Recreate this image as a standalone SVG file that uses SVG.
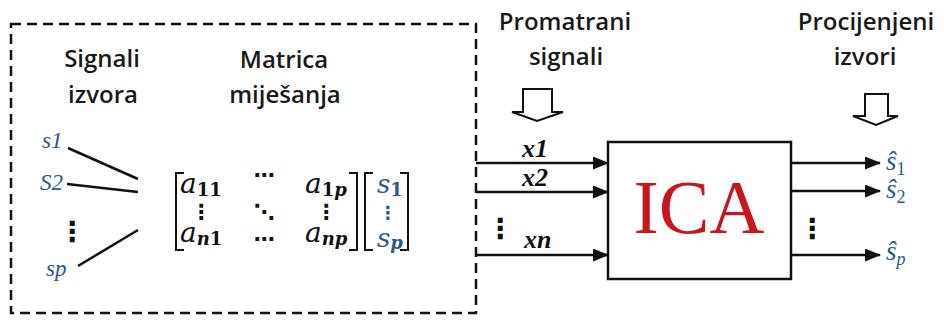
<svg xmlns="http://www.w3.org/2000/svg" width="944" height="320" viewBox="0 0 944 320">
<style>
.hd{font-family:"Open Sans","Liberation Sans",sans-serif;font-size:24px;font-weight:600;fill:#1a1a1a;text-anchor:middle}
.ma{font-family:"DejaVu Serif",serif;font-size:28px;font-style:italic;fill:#111}
.sub{font-size:18px;font-weight:bold}
.up{font-style:normal}
.sv{font-family:"DejaVu Serif",serif;font-size:26px;font-style:italic;fill:#2c5985}
.sl{font-family:"Liberation Serif",serif;font-size:23px;font-style:italic;fill:#2c5985}
.xl{font-family:"Liberation Serif",serif;font-size:26px;font-style:italic;font-weight:bold;fill:#111}
.hl{font-family:"Liberation Serif",serif;font-size:27px;font-style:italic;fill:#2c5985}
.hs{font-size:18px;font-style:normal}
.dots{font-family:"DejaVu Sans",sans-serif;font-size:28px;font-weight:bold;fill:#111;text-anchor:middle}
.mdots{font-family:"DejaVu Sans",sans-serif;font-size:21px;font-weight:bold;fill:#111;text-anchor:middle}
.line{stroke:#111;stroke-width:2.5;fill:none}
.br{stroke:#111;stroke-width:2;fill:none}
.arr{stroke:#111;stroke-width:2.5;fill:none;marker-end:url(#ah)}
.hollow{fill:#fff;stroke:#111;stroke-width:2;stroke-linejoin:miter}
</style>
<defs>
<marker id="ah" markerUnits="userSpaceOnUse" markerWidth="16" markerHeight="14" refX="15" refY="6.5" orient="auto">
<path d="M0,0 L16,6.5 L0,13 z" fill="#111"/>
</marker>
</defs>
<rect width="944" height="320" fill="#fff"/>

<g id="mixing-box">
<rect x="11" y="24" width="465" height="289" fill="none" stroke="#111" stroke-width="2.5" stroke-dasharray="10,6"/>
</g>

<g id="labels-left">
<text class="hd" x="102" y="67">Signali</text>
<text class="hd" x="103" y="103">izvora</text>
<text class="hd" x="284" y="68">Matrica</text>
<text class="hd" x="285" y="103">miješanja</text>
</g>

<g id="sources">
<text class="sl" x="42" y="148">s1</text>
<text class="sl" x="40" y="190">S2</text>
<text class="dots" x="72" y="241">⋮</text>
<text class="sl" x="46" y="276">sp</text>
</g>

<g id="matrix">
<path class="br" d="M184,173 H176 V250 H184"/>
<path class="br" d="M349,173 H357 V250 H349"/>
<text class="ma" x="180" y="193">a<tspan class="sub up" dy="3">11</tspan></text>
<text class="mdots" x="264" y="182">⋯</text>
<text class="ma" x="305" y="193">a<tspan class="sub" dy="3"><tspan class="up">1</tspan>p</tspan></text>
<text class="mdots" x="201" y="219">⋮</text>
<text class="mdots" x="264" y="219">⋱</text>
<text class="mdots" x="326" y="219">⋮</text>
<text class="ma" x="180" y="242">a<tspan class="sub" dy="3">n<tspan class="up">1</tspan></tspan></text>
<text class="mdots" x="264" y="246">⋯</text>
<text class="ma" x="305" y="242">a<tspan class="sub" dy="3">np</tspan></text>
</g>

<g id="source-vector">
<path class="br" d="M373,173 H365 V250 H373"/>
<path class="br" d="M400,173 H408 V250 H400"/>
<text class="sv" x="377" y="193">s<tspan class="sub up" dy="3">1</tspan></text>
<text class="mdots" x="388" y="219" style="fill:#2c5985;font-size:18px">⋮</text>
<text class="sv" x="377" y="247">s<tspan class="sub" dy="2">p</tspan></text>
</g>

<g id="observed-label">
<text class="hd" x="565" y="30">Promatrani</text>
<text class="hd" x="566" y="65">signali</text>
<path class="hollow" d="M523,89 H552 V112 H563 L537,121 L512,112 H523 Z"/>
</g>

<g id="estimated-label">
<text class="hd" x="866" y="30">Procijenjeni</text>
<text class="hd" x="865" y="65">izvori</text>
<path class="hollow" d="M865,94 H888 V116 H898 L876,125 L853,116 H865 Z"/>
</g>

<g id="ica">
<rect x="608" y="142" width="183" height="137" fill="#fff" stroke="#111" stroke-width="2.5"/>
<text x="699" y="233" text-anchor="middle" font-family="Liberation Serif,serif" font-size="76" fill="#c8161d">ICA</text>
</g>

<g id="x-labels">
<text class="xl" x="522" y="157">x1</text>
<text class="xl" x="522" y="186">x2</text>
<text class="dots" x="500" y="238">⋮</text>
<text class="xl" x="524" y="248">xn</text>
</g>

<g id="s-hat-labels">
<text class="hl" x="886" y="170">ŝ<tspan class="hs" dy="5">1</tspan></text>
<text class="hl" x="886" y="198">ŝ<tspan class="hs" dy="5">2</tspan></text>
<text class="dots" x="812" y="238">⋮</text>
<text class="hl" x="886" y="260">ŝ<tspan class="hs" dy="5" style="font-style:italic">p</tspan></text>
</g>

<g id="connectors">
<line class="line" x1="68" y1="148" x2="138" y2="179"/>
<line class="line" x1="67" y1="184" x2="138" y2="192"/>
<line class="line" x1="78" y1="266" x2="138" y2="230"/>
<line class="arr" x1="476" y1="163" x2="608" y2="163"/>
<line class="arr" x1="476" y1="192" x2="608" y2="192"/>
<line class="arr" x1="476" y1="255" x2="608" y2="255"/>
<line class="arr" x1="791" y1="163" x2="880" y2="163"/>
<line class="arr" x1="791" y1="191" x2="880" y2="191"/>
<line class="arr" x1="791" y1="255" x2="880" y2="255"/>
</g>
</svg>
